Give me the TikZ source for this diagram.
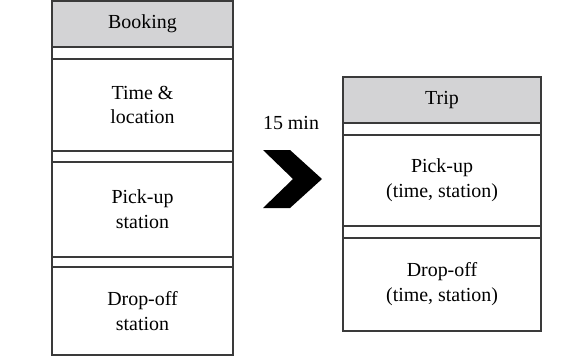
\documentclass[tikz,border=0pt]{standalone}
\usepackage{fontspec}
\setmainfont{Liberation Serif}
\usetikzlibrary{calc}

\definecolor{headgray}{HTML}{D3D3D5}
\definecolor{linegray}{HTML}{3A3A3A}

\tikzset{
  frame/.style={draw=linegray, line width=1.2bp},
  headbox/.style={frame, fill=headgray, rectangle, inner sep=0pt, align=center,
    font=\fontsize{20}{25}\selectfont},
  fieldbox/.style={frame, fill=white, rectangle, inner sep=0pt, align=center,
    font=\fontsize{20}{25}\selectfont},
  label/.style={inner sep=0pt, font=\fontsize{20}{25}\selectfont}
}

\begin{document}
\begin{tikzpicture}[x=1bp,y=-1bp]
		\useasboundingbox (0,0) rectangle (562,361);
		
		%booking outline
		\draw[frame] (52,1) rectangle (233,355);
		\node[headbox, minimum width=181bp, minimum height=46bp] (booking) at (142.5,24) {Booking};
		\node[fieldbox, minimum width=181bp, minimum height=92bp] (timeloc) at (142.5,105) {Time \&\\location};
		\node[fieldbox, minimum width=181bp, minimum height=95bp] (bookpick) at (142.5,209.5) {Pick-up\\station};
		\node[fieldbox, minimum width=181bp, minimum height=88bp] (bookdrop) at (142.5,311) {Drop-off\\station};
		
		%trip outline
		\draw[frame] (343,77) rectangle (541,331);
		\node[headbox, minimum width=198bp, minimum height=46bp] (trip) at (442,100) {Trip};
		\node[fieldbox, minimum width=198bp, minimum height=91bp] (trippick) at (442,180.5) {Pick-up\\(time, station)};
		\node[fieldbox, minimum width=198bp, minimum height=93bp] (tripdrop) at (442,284.5) {Drop-off\\(time, station)};
		
		%transition
		\node[label] (delay) at (291,123) {15 min};
		\fill[black] (263,150) -- (290,150) -- (322,179) -- (290,208) -- (263,208) -- (293,179) -- cycle;
		
\end{tikzpicture}
\end{document}
